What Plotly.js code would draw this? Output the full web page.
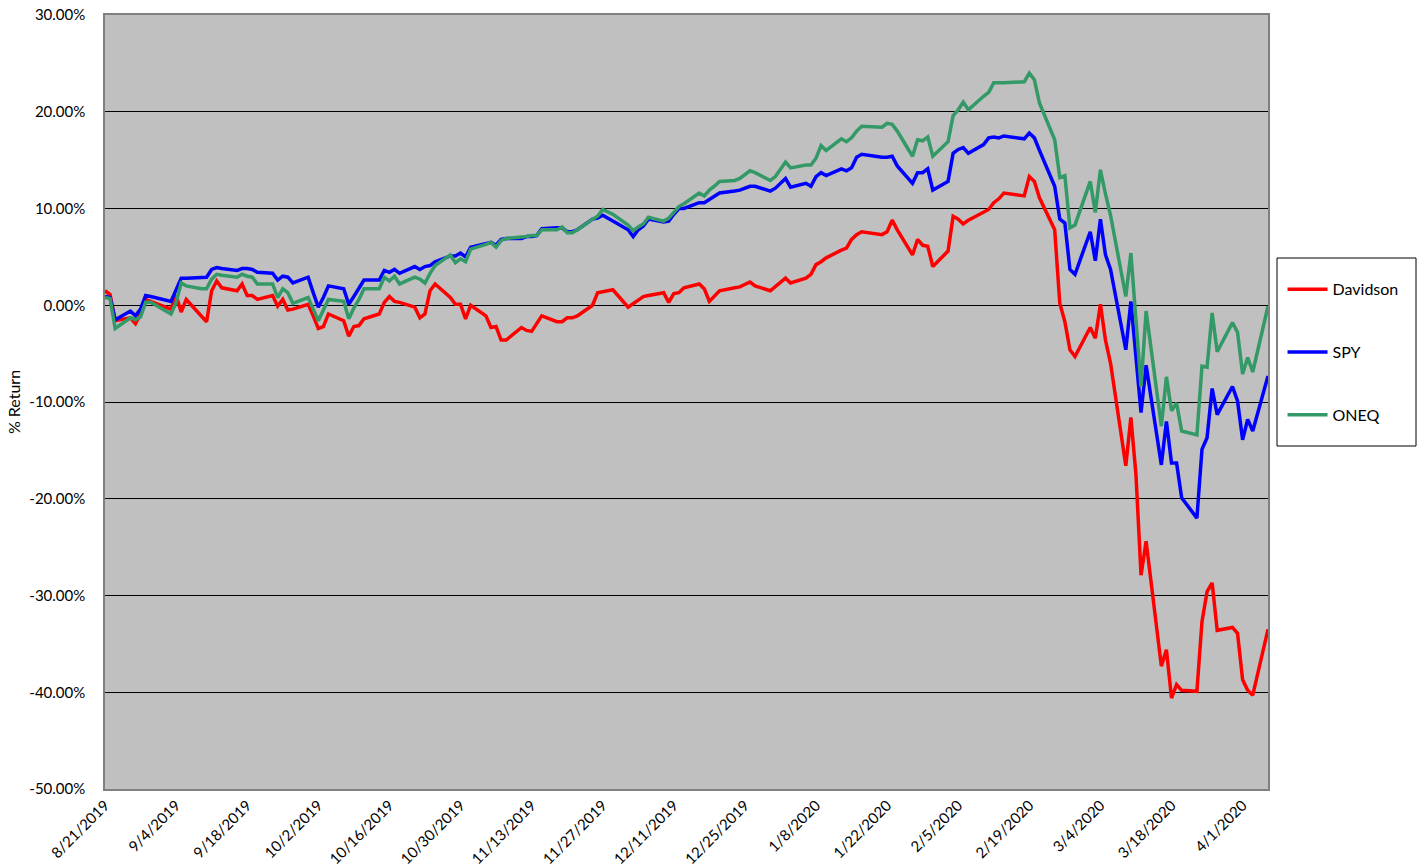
<!DOCTYPE html>
<html>
<head>
<meta charset="utf-8">
<script src="https://cdn.plot.ly/plotly-3.0.1.min.js"></script>
<style>html,body{margin:0;padding:0;background:#fff;}#chart{width:1420px;height:867px;}</style>
</head>
<body>
<div id="chart"></div>
<script>
const dates = [
"2019-08-21","2019-08-22","2019-08-23","2019-08-26","2019-08-27","2019-08-28","2019-08-29","2019-08-30",
"2019-09-03","2019-09-04","2019-09-05","2019-09-06","2019-09-09","2019-09-10","2019-09-11","2019-09-12","2019-09-13",
"2019-09-16","2019-09-17","2019-09-18","2019-09-19","2019-09-20","2019-09-23","2019-09-24","2019-09-25","2019-09-26","2019-09-27",
"2019-09-30","2019-10-01","2019-10-02","2019-10-03","2019-10-04","2019-10-07","2019-10-08","2019-10-09","2019-10-10","2019-10-11",
"2019-10-14","2019-10-15","2019-10-16","2019-10-17","2019-10-18","2019-10-21","2019-10-22","2019-10-23","2019-10-24","2019-10-25",
"2019-10-28","2019-10-29","2019-10-30","2019-10-31","2019-11-01","2019-11-04","2019-11-05","2019-11-06","2019-11-07","2019-11-08",
"2019-11-11","2019-11-12","2019-11-13","2019-11-14","2019-11-15","2019-11-18","2019-11-19","2019-11-20","2019-11-21","2019-11-22",
"2019-11-25","2019-11-26","2019-11-27","2019-11-29","2019-12-02","2019-12-03","2019-12-04","2019-12-05","2019-12-06",
"2019-12-09","2019-12-10","2019-12-11","2019-12-12","2019-12-13","2019-12-16","2019-12-17","2019-12-18","2019-12-19","2019-12-20",
"2019-12-23","2019-12-24","2019-12-26","2019-12-27","2019-12-30","2019-12-31","2020-01-02","2020-01-03",
"2020-01-06","2020-01-07","2020-01-08","2020-01-09","2020-01-10","2020-01-13","2020-01-14","2020-01-15","2020-01-16","2020-01-17",
"2020-01-21","2020-01-22","2020-01-23","2020-01-24","2020-01-27","2020-01-28","2020-01-29","2020-01-30","2020-01-31",
"2020-02-03","2020-02-04","2020-02-05","2020-02-06","2020-02-07","2020-02-10","2020-02-11","2020-02-12","2020-02-13","2020-02-14",
"2020-02-18","2020-02-19","2020-02-20","2020-02-21","2020-02-24","2020-02-25","2020-02-26","2020-02-27","2020-02-28",
"2020-03-02","2020-03-03","2020-03-04","2020-03-05","2020-03-06","2020-03-09","2020-03-10","2020-03-11","2020-03-12","2020-03-13",
"2020-03-16","2020-03-17","2020-03-18","2020-03-19","2020-03-20","2020-03-23","2020-03-24","2020-03-25","2020-03-26","2020-03-27",
"2020-03-30","2020-03-31","2020-04-01","2020-04-02","2020-04-03","2020-04-06"
];

const davidson = [
1.5,1.1,-1.6,-1.3,-1.9,-0.9,0.6,0.4,
-0.4,1.0,-0.7,0.6,-1.2,-1.7,1.5,2.5,1.8,
1.5,2.2,1.0,1.0,0.6,1.0,-0.1,0.6,-0.5,-0.4,
0.1,-1.1,-2.4,-2.2,-0.9,-1.6,-3.2,-2.2,-2.1,-1.4,
-0.9,0.3,0.9,0.4,0.3,-0.2,-1.3,-0.9,1.5,2.2,
0.8,0.1,0.1,-1.4,0.0,-1.1,-2.3,-2.2,-3.6,-3.6,
-2.3,-2.6,-2.7,-1.9,-1.1,-1.7,-1.7,-1.3,-1.3,-1.1,
0.0,1.3,1.4,1.6,-0.2,0.2,0.6,0.9,1.0,
1.3,0.3,1.2,1.3,1.8,2.2,1.7,0.4,1.0,1.5,
1.8,1.9,2.4,2.0,1.5,1.9,2.8,2.3,
2.8,3.2,4.2,4.5,4.9,5.7,5.9,6.8,7.3,7.6,
7.3,7.6,8.8,7.8,5.2,6.8,6.2,6.1,4.0,
5.6,9.2,8.9,8.4,8.8,9.7,9.9,10.6,11.0,11.6,
11.3,13.3,12.8,11.1,7.8,0.2,-1.7,-4.6,-5.3,
-2.3,-3.4,0.1,-3.6,-6.0,-16.6,-11.6,-17.5,-27.9,-24.4,
-37.3,-35.6,-40.6,-39.2,-39.8,-39.9,-32.7,-29.6,-28.7,-33.6,
-33.3,-33.9,-38.7,-39.8,-40.3,-33.5
];

const spy = [
0.9,0.8,-1.5,-0.6,-1.1,-0.4,1.0,0.9,
0.4,1.5,2.8,2.8,2.9,2.9,3.7,3.9,3.8,
3.6,3.8,3.8,3.7,3.4,3.3,2.6,3.0,2.9,2.3,
2.9,1.3,-0.2,0.8,2.0,1.7,0.1,0.9,1.7,2.6,
2.6,3.6,3.4,3.7,3.3,4.0,3.7,4.0,4.1,4.5,
5.1,5.1,5.4,5.0,6.0,6.4,6.5,6.2,6.8,6.9,
6.9,7.1,7.1,7.2,7.9,8.0,8.0,7.6,7.6,7.8,
8.9,9.0,9.3,8.7,7.8,7.1,7.8,8.2,8.9,
8.6,8.7,9.4,10.0,10.0,10.6,10.6,10.9,11.3,11.6,
11.8,11.9,12.3,12.3,11.8,12.1,13.1,12.2,
12.6,12.3,13.3,13.7,13.4,14.1,13.9,14.2,15.3,15.6,
15.3,15.3,15.4,14.4,12.6,13.7,13.7,14.1,11.9,
12.8,15.7,16.1,16.3,15.7,16.6,17.3,17.4,17.3,17.5,
17.2,17.8,17.3,16.0,12.3,8.9,8.5,3.7,3.2,
7.6,4.6,8.9,5.2,3.7,-4.6,0.4,-5.5,-11.1,-6.2,
-16.5,-12.0,-16.3,-16.3,-19.9,-22.0,-14.9,-13.7,-8.6,-11.3,
-8.4,-9.9,-13.9,-11.8,-13.0,-7.3
];

const oneq = [
0.8,0.7,-2.4,-1.3,-1.5,-1.2,0.3,0.3,
-0.9,0.3,2.3,2.0,1.7,1.7,2.7,3.2,3.1,
2.9,3.2,3.0,2.9,2.2,2.2,0.8,1.7,1.3,0.2,
0.8,-0.4,-1.6,-0.5,0.6,0.4,-1.4,-0.3,0.6,1.7,
1.7,2.9,2.5,3.0,2.2,2.9,2.7,2.3,3.3,4.1,
5.2,4.4,4.8,4.5,5.8,6.3,6.5,6.0,6.7,6.9,
7.0,7.1,7.2,7.2,7.8,7.8,8.1,7.5,7.5,7.8,
8.9,9.2,9.9,9.4,8.3,7.7,8.1,8.4,9.1,
8.7,9.0,9.6,10.2,10.5,11.6,11.3,11.9,12.3,12.8,
12.9,13.1,13.9,13.7,12.9,13.3,14.8,14.2,
14.5,14.5,15.2,16.5,16.0,17.2,16.9,17.3,18.0,18.5,
18.4,18.8,18.7,18.0,15.4,17.1,17.0,17.4,15.4,
16.9,19.6,20.2,21.0,20.2,21.6,22.0,23.0,23.0,23.0,
23.1,24.0,23.3,20.9,17.1,13.2,13.4,8.0,8.3,
12.8,9.6,14.0,11.5,9.3,0.9,5.4,-1.5,-8.4,-0.6,
-12.5,-7.4,-10.9,-10.1,-13.0,-13.4,-6.3,-6.4,-0.8,-4.8,
-1.8,-2.8,-7.1,-5.4,-6.9,-0.1
];

const tickDates = ["2019-08-21","2019-09-04","2019-09-18","2019-10-02","2019-10-16","2019-10-30","2019-11-13","2019-11-27",
"2019-12-11","2019-12-25","2020-01-08","2020-01-22","2020-02-05","2020-02-19","2020-03-04","2020-03-18","2020-04-01"];
const tickLabels = ["8/21/2019","9/4/2019","9/18/2019","10/2/2019","10/16/2019","10/30/2019","11/13/2019","11/27/2019",
"12/11/2019","12/25/2019","1/8/2020","1/22/2020","2/5/2020","2/19/2020","3/4/2020","3/18/2020","4/1/2020"];
const yTicks = [-50,-40,-30,-20,-10,0,10,20,30];
const yLabels = ["-50.00%","-40.00%","-30.00%","-20.00%","-10.00%","0.00%","10.00%","20.00%","30.00%"];

const seriesNames = ["Davidson","SPY","ONEQ"];
const seriesColors = ["#FF0000","#0000FF","#339966"];
const seriesValues = [davidson, spy, oneq];

const traces = seriesNames.map((n,i)=>({
  type:"scatter", mode:"lines", name:n, x:dates, y:seriesValues[i],
  legendgroup:"g"+i,
  line:{color:seriesColors[i], width:3.5}
}));

const FONT = "Lato, 'Open Sans', sans-serif";
const layout = {
  width:1420, height:867,
  margin:{l:105, r:152, t:15, b:78},
  paper_bgcolor:"#FFFFFF",
  plot_bgcolor:"#C0C0C0",
  font:{family:FONT, size:15, color:"#000"},
  showlegend:true,
  legend:{
    x:1.0125, xanchor:"left", y:0.6676, yanchor:"top",
    bgcolor:"rgba(0,0,0,0)", borderwidth:0,
    traceorder:"grouped", tracegroupgap:39,
    font:{family:FONT, size:16, color:"#000"},
    itemwidth:40
  },
  xaxis:{
    type:"date",
    range:["2019-08-21","2020-04-06"],
    tickvals:tickDates, ticktext:tickLabels,
    tickangle:-45,
    showgrid:false, zeroline:false,
    showline:true, mirror:true, linecolor:"#808080", linewidth:1.5,
    ticks:"", tickfont:{family:FONT, size:15, color:"#000"}
  },
  yaxis:{
    range:[-50,30],
    tickvals:yTicks, ticktext:yLabels,
    showgrid:true, gridcolor:"#000000", gridwidth:1,
    zeroline:false,
    showline:true, mirror:true, linecolor:"#808080", linewidth:1.5,
    ticks:"", ticklabelstandoff:15,
    tickfont:{family:FONT, size:15, color:"#000"},
    title:{text:"% Return", font:{family:FONT, size:16, color:"#000"}, standoff:5}
  },
  shapes:[{
    type:"rect", xref:"paper", yref:"paper",
    x0:(1277-105)/1163, x1:(1416-105)/1163,
    y0:(789-446)/774, y1:(789-258)/774,
    line:{color:"#000000", width:1}, fillcolor:"#FFFFFF", layer:"below"
  }]
};

Plotly.newPlot("chart", traces, layout, {displayModeBar:false, responsive:false});
</script>
</body>
</html>
